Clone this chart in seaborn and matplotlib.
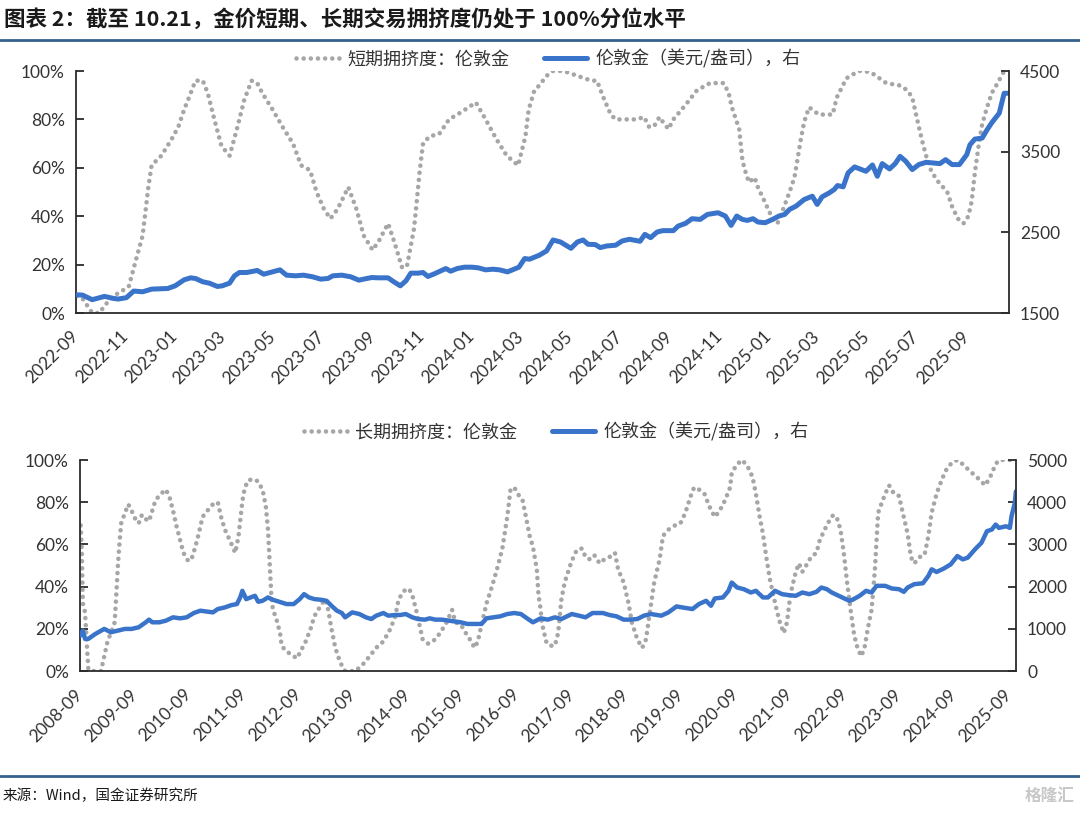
import numpy as np
import pandas as pd
import matplotlib
matplotlib.use("Agg")
import matplotlib.pyplot as plt
import matplotlib.dates as mdates
from matplotlib.lines import Line2D
from matplotlib.ticker import FuncFormatter, FixedLocator
from matplotlib.font_manager import FontProperties
import seaborn as sns

sns.set_theme(style="white")
plt.rcParams["font.family"] = ["Lato", "Noto Sans CJK SC", "DejaVu Sans"]
plt.rcParams["axes.unicode_minus"] = False

BLUE = "#3A74CA"
GRAY = "#A6A6A6"
AXC = "#2B2B2B"
TXT = "#333333"
CJK = ["Noto Sans CJK SC", "DejaVu Sans"]

# ---------------- top panel: short-term crowding (weekly) ----------------
st_dates = [
    "2022-09-02", "2022-09-09", "2022-09-21", "2022-09-30", "2022-10-06", "2022-10-17", "2022-10-27", "2022-11-05", "2022-11-13", "2022-11-22",
    "2022-11-29", "2022-12-03", "2022-12-15", "2022-12-28", "2023-01-05", "2023-01-12", "2023-01-18", "2023-01-26", "2023-02-04", "2023-02-10",
    "2023-02-19", "2023-02-27", "2023-03-09", "2023-03-18", "2023-03-27", "2023-04-05", "2023-04-12", "2023-04-18", "2023-05-01", "2023-05-13",
    "2023-05-26", "2023-06-05", "2023-06-16", "2023-06-24", "2023-07-03", "2023-07-11", "2023-07-20", "2023-08-02", "2023-08-12", "2023-08-21",
    "2023-09-01", "2023-09-09", "2023-09-20", "2023-09-28", "2023-10-07", "2023-10-13", "2023-10-22", "2023-10-29", "2023-11-02", "2023-11-10",
    "2023-11-22", "2023-12-04", "2023-12-19", "2024-01-06", "2024-01-18", "2024-01-31", "2024-02-13", "2024-02-27", "2024-03-07", "2024-03-11",
    "2024-03-18", "2024-03-24", "2024-04-02", "2024-04-10", "2024-04-23", "2024-05-10", "2024-05-27", "2024-06-03", "2024-06-11", "2024-06-20",
    "2024-06-26", "2024-07-13", "2024-07-22", "2024-07-31", "2024-08-06", "2024-08-12", "2024-08-19", "2024-08-23", "2024-08-30", "2024-09-05",
    "2024-09-20", "2024-10-04", "2024-10-20", "2024-11-06", "2024-11-12", "2024-11-16", "2024-11-20", "2024-11-25", "2024-11-29", "2024-12-03",
    "2024-12-07", "2024-12-14", "2024-12-18", "2024-12-25", "2025-01-05", "2025-01-11", "2025-01-16", "2025-01-26", "2025-02-01", "2025-02-09",
    "2025-02-13", "2025-02-19", "2025-03-03", "2025-03-20", "2025-03-25", "2025-04-06", "2025-04-21", "2025-04-29", "2025-05-08", "2025-05-25",
    "2025-06-11", "2025-06-20", "2025-06-26", "2025-06-30", "2025-07-04", "2025-07-09", "2025-07-13", "2025-07-19", "2025-07-26", "2025-08-08",
    "2025-08-14", "2025-08-21", "2025-08-28", "2025-09-03", "2025-09-07", "2025-09-11", "2025-09-16", "2025-09-20", "2025-09-26", "2025-10-02",
    "2025-10-09", "2025-10-17", "2025-10-21",
]
st_pct = [
    7, 6, 0, 0, 3, 7, 9, 11, 21, 32,
    52, 61, 65, 72, 77, 84, 89, 96, 96, 91,
    79, 69, 65, 76, 88, 96, 95, 91, 84, 77,
    70, 61, 59, 50, 43, 39, 43, 52, 43, 32,
    26, 30, 37, 29, 19, 19, 35, 59, 70, 73,
    74, 80, 83, 87, 80, 72, 65, 61, 73, 84,
    92, 94, 98, 100, 100, 98, 96, 96, 89, 82,
    80, 80, 80, 81, 77, 77, 81, 79, 76, 80,
    86, 92, 95, 95, 91, 85, 81, 76, 63, 58,
    54, 56, 52, 47, 39, 37, 41, 50, 56, 72,
    79, 85, 82, 82, 89, 97, 100, 100, 99, 95,
    94, 92, 89, 83, 77, 70, 65, 59, 55, 50,
    44, 39, 37, 40, 46, 58, 70, 78, 85, 91,
    95, 100, 100,
]

gold_w_dates = [
    "2022-09-01", "2022-09-09", "2022-09-21", "2022-10-06", "2022-10-17", "2022-10-23", "2022-11-02", "2022-11-11", "2022-11-22", "2022-12-03",
    "2022-12-23", "2023-01-01", "2023-01-12", "2023-01-20", "2023-01-26", "2023-02-04", "2023-02-12", "2023-02-22", "2023-02-28", "2023-03-09",
    "2023-03-15", "2023-03-21", "2023-03-30", "2023-04-12", "2023-04-20", "2023-05-01", "2023-05-10", "2023-05-18", "2023-05-29", "2023-06-08",
    "2023-06-19", "2023-06-29", "2023-07-08", "2023-07-14", "2023-07-25", "2023-08-05", "2023-08-15", "2023-08-21", "2023-08-31", "2023-09-08",
    "2023-09-20", "2023-09-27", "2023-10-05", "2023-10-12", "2023-10-18", "2023-10-27", "2023-11-02", "2023-11-08", "2023-11-16", "2023-11-23",
    "2023-11-30", "2023-12-06", "2023-12-14", "2023-12-23", "2024-01-01", "2024-01-09", "2024-01-18", "2024-01-27", "2024-02-04", "2024-02-14",
    "2024-02-20", "2024-02-28", "2024-03-06", "2024-03-12", "2024-03-24", "2024-04-02", "2024-04-10", "2024-04-19", "2024-05-02", "2024-05-10",
    "2024-05-17", "2024-05-23", "2024-06-01", "2024-06-07", "2024-06-15", "2024-06-26", "2024-07-04", "2024-07-13", "2024-07-26", "2024-08-01",
    "2024-08-08", "2024-08-16", "2024-08-23", "2024-09-05", "2024-09-11", "2024-09-20", "2024-09-28", "2024-10-08", "2024-10-17", "2024-10-30",
    "2024-11-08", "2024-11-15", "2024-11-22", "2024-11-29", "2024-12-05", "2024-12-12", "2024-12-18", "2024-12-27", "2025-01-05", "2025-01-13",
    "2025-01-20", "2025-01-26", "2025-02-03", "2025-02-13", "2025-02-23", "2025-03-01", "2025-03-07", "2025-03-16", "2025-03-22", "2025-03-26",
    "2025-04-02", "2025-04-08", "2025-04-16", "2025-04-30", "2025-05-08", "2025-05-14", "2025-05-20", "2025-05-29", "2025-06-05", "2025-06-11",
    "2025-06-18", "2025-06-26", "2025-07-04", "2025-07-13", "2025-07-30", "2025-08-06", "2025-08-14", "2025-08-23", "2025-09-01", "2025-09-05",
    "2025-09-11", "2025-09-20", "2025-09-26", "2025-10-02", "2025-10-11", "2025-10-17", "2025-10-21",
]
gold_w = [
    1726, 1722, 1665, 1706, 1681, 1673, 1690, 1772, 1763, 1796,
    1804, 1837, 1911, 1936, 1928, 1887, 1870, 1829, 1837, 1870,
    1961, 2002, 2002, 2027, 1981, 2010, 2035, 1969, 1961, 1969,
    1949, 1920, 1928, 1961, 1969, 1949, 1907, 1920, 1940, 1936,
    1936, 1887, 1837, 1899, 1994, 1994, 2002, 1953, 1986, 2018,
    2051, 2018, 2051, 2068, 2068, 2060, 2035, 2043, 2035, 2010,
    2035, 2068, 2175, 2167, 2216, 2270, 2405, 2381, 2302, 2381,
    2405, 2352, 2348, 2311, 2331, 2340, 2393, 2414, 2389, 2475,
    2434, 2504, 2521, 2521, 2578, 2611, 2669, 2660, 2722, 2743,
    2702, 2586, 2702, 2660, 2648, 2669, 2628, 2619, 2660, 2702,
    2722, 2784, 2825, 2907, 2948, 2846, 2940, 2990, 3031, 3080,
    3064, 3237, 3311, 3257, 3335, 3195, 3352, 3286, 3352, 3442,
    3381, 3278, 3340, 3368, 3352, 3401, 3340, 3340, 3463, 3586,
    3656, 3669, 3771, 3862, 3977, 4224, 4224,
]

# ---------------- bottom panel: long-term crowding (decimal years) ----------------
lt_year = [
    2008.68, 2008.70, 2008.72, 2008.76, 2008.79, 2008.82, 2008.86, 2009.05, 2009.11, 2009.17,
    2009.23, 2009.30, 2009.33, 2009.36, 2009.39, 2009.42, 2009.49, 2009.55, 2009.61, 2009.68,
    2009.74, 2009.80, 2009.87, 2009.93, 2009.99, 2010.05, 2010.15, 2010.24, 2010.31, 2010.37,
    2010.43, 2010.50, 2010.56, 2010.65, 2010.72, 2010.78, 2010.84, 2010.91, 2011.00, 2011.10,
    2011.19, 2011.25, 2011.32, 2011.41, 2011.51, 2011.57, 2011.63, 2011.66, 2011.73, 2011.82,
    2011.92, 2012.01, 2012.07, 2012.11, 2012.14, 2012.17, 2012.20, 2012.26, 2012.33, 2012.36,
    2012.42, 2012.52, 2012.64, 2012.70, 2012.80, 2012.89, 2012.96, 2013.05, 2013.15, 2013.21,
    2013.27, 2013.34, 2013.43, 2013.52, 2013.71, 2013.84, 2013.97, 2014.09, 2014.22, 2014.35,
    2014.44, 2014.50, 2014.60, 2014.69, 2014.75, 2014.82, 2014.88, 2014.94, 2015.04, 2015.13,
    2015.23, 2015.36, 2015.48, 2015.54, 2015.64, 2015.73, 2015.83, 2015.89, 2015.95, 2016.02,
    2016.11, 2016.21, 2016.30, 2016.40, 2016.49, 2016.55, 2016.62, 2016.68, 2016.77, 2016.84,
    2016.90, 2016.96, 2017.03, 2017.06, 2017.10, 2017.12, 2017.20, 2017.26, 2017.36, 2017.42,
    2017.48, 2017.54, 2017.64, 2017.73, 2017.80, 2017.86, 2017.92, 2017.99, 2018.08, 2018.18,
    2018.27, 2018.36, 2018.46, 2018.52, 2018.62, 2018.71, 2018.77, 2018.87, 2018.96, 2019.03,
    2019.09, 2019.18, 2019.28, 2019.34, 2019.44, 2019.56, 2019.66, 2019.75, 2019.85, 2019.91,
    2020.00, 2020.10, 2020.19, 2020.29, 2020.38, 2020.48, 2020.57, 2020.60, 2020.70, 2020.79,
    2020.89, 2020.98, 2021.04, 2021.11, 2021.17, 2021.23, 2021.30, 2021.36, 2021.42, 2021.48,
    2021.55, 2021.61, 2021.67, 2021.77, 2021.83, 2021.89, 2021.96, 2022.05, 2022.15, 2022.21,
    2022.30, 2022.40, 2022.46, 2022.53, 2022.59, 2022.65, 2022.71, 2022.78, 2022.84, 2022.90,
    2022.97, 2023.03, 2023.09, 2023.16, 2023.22, 2023.28, 2023.35, 2023.41, 2023.48, 2023.57,
    2023.66, 2023.75, 2023.82, 2023.88, 2023.94, 2024.04, 2024.13, 2024.20, 2024.26, 2024.35,
    2024.45, 2024.54, 2024.64, 2024.73, 2024.83, 2024.95, 2025.08, 2025.24, 2025.33, 2025.43,
    2025.49, 2025.80,
]
lt_pct = [
    69, 58, 32, 28, 14, 1, 0, 0, 7, 14,
    18, 23, 36, 50, 61, 70, 75, 79, 76, 72,
    70, 74, 72, 71, 76, 81, 84, 86, 82, 76,
    69, 62, 56, 52, 54, 59, 65, 73, 76, 79,
    80, 73, 67, 62, 56, 64, 78, 84, 90, 91,
    90, 86, 78, 67, 51, 36, 29, 25, 18, 12,
    10, 8, 6, 9, 14, 20, 26, 30, 34, 29,
    20, 11, 4, 0, 0, 3, 7, 11, 14, 20,
    26, 34, 38, 39, 36, 29, 22, 15, 13, 14,
    17, 22, 29, 23, 22, 18, 14, 11, 14, 22,
    32, 40, 48, 58, 73, 86, 87, 84, 81, 72,
    64, 59, 48, 36, 29, 23, 14, 12, 12, 18,
    34, 42, 50, 56, 58, 58, 54, 53, 55, 51,
    53, 54, 56, 48, 42, 32, 23, 15, 11, 15,
    26, 42, 53, 64, 67, 69, 70, 75, 83, 87,
    86, 84, 78, 73, 76, 81, 87, 94, 98, 100,
    97, 92, 84, 73, 65, 54, 43, 36, 29, 23,
    18, 23, 36, 47, 51, 47, 50, 54, 56, 62,
    67, 72, 74, 72, 67, 56, 42, 28, 17, 11,
    7, 11, 20, 29, 48, 75, 80, 84, 88, 84,
    83, 73, 65, 54, 51, 54, 55, 64, 75, 84,
    91, 96, 99, 100, 98, 95, 92, 88, 92, 98,
    100, 100,
]

gold_d_year = [
    2008.68, 2008.72, 2008.76, 2008.82, 2008.95, 2009.11, 2009.23, 2009.36, 2009.49, 2009.61,
    2009.74, 2009.87, 2009.93, 2009.99, 2010.12, 2010.24, 2010.37, 2010.50, 2010.62, 2010.75,
    2010.87, 2011.00, 2011.10, 2011.19, 2011.32, 2011.44, 2011.54, 2011.60, 2011.64, 2011.71,
    2011.79, 2011.87, 2011.93, 2012.01, 2012.11, 2012.20, 2012.26, 2012.36, 2012.45, 2012.58,
    2012.69, 2012.77, 2012.86, 2012.96, 2013.08, 2013.18, 2013.27, 2013.37, 2013.46, 2013.52,
    2013.65, 2013.78, 2013.90, 2014.00, 2014.09, 2014.22, 2014.31, 2014.44, 2014.53, 2014.63,
    2014.75, 2014.85, 2014.98, 2015.07, 2015.17, 2015.29, 2015.42, 2015.54, 2015.64, 2015.76,
    2015.89, 2016.02, 2016.11, 2016.24, 2016.36, 2016.49, 2016.62, 2016.74, 2016.87, 2016.96,
    2017.10, 2017.23, 2017.36, 2017.48, 2017.67, 2017.80, 2017.92, 2018.05, 2018.24, 2018.36,
    2018.49, 2018.62, 2018.74, 2018.87, 2018.99, 2019.12, 2019.31, 2019.44, 2019.59, 2019.69,
    2019.88, 2020.00, 2020.13, 2020.22, 2020.29, 2020.44, 2020.54, 2020.60, 2020.70, 2020.82,
    2020.95, 2021.04, 2021.17, 2021.26, 2021.39, 2021.52, 2021.64, 2021.77, 2021.89, 2022.02,
    2022.15, 2022.24, 2022.34, 2022.43, 2022.53, 2022.62, 2022.75, 2022.81, 2022.94, 2023.06,
    2023.16, 2023.25, 2023.41, 2023.53, 2023.66, 2023.75, 2023.82, 2023.94, 2024.10, 2024.20,
    2024.26, 2024.35, 2024.48, 2024.61, 2024.73, 2024.83, 2024.92, 2025.05, 2025.17, 2025.27,
    2025.36, 2025.43, 2025.49, 2025.62, 2025.69, 2025.72, 2025.78, 2025.80,
]
gold_d = [
    840, 958, 761, 761, 879, 997, 918, 958, 997, 997,
    1036, 1154, 1217, 1154, 1154, 1193, 1272, 1248, 1272, 1374,
    1429, 1405, 1389, 1468, 1507, 1562, 1586, 1743, 1900, 1703,
    1743, 1782, 1641, 1664, 1743, 1688, 1664, 1625, 1586, 1586,
    1703, 1821, 1743, 1703, 1688, 1664, 1546, 1429, 1374, 1272,
    1389, 1350, 1272, 1232, 1311, 1374, 1311, 1327, 1327, 1350,
    1272, 1232, 1217, 1248, 1217, 1217, 1193, 1170, 1154, 1115,
    1115, 1115, 1248, 1272, 1295, 1350, 1374, 1350, 1232, 1154,
    1248, 1217, 1272, 1232, 1350, 1311, 1272, 1374, 1374, 1327,
    1295, 1217, 1217, 1232, 1311, 1350, 1311, 1389, 1531, 1507,
    1468, 1586, 1664, 1546, 1719, 1743, 1900, 2096, 1978, 1939,
    1860, 1900, 1743, 1743, 1900, 1821, 1798, 1782, 1860, 1821,
    1876, 1978, 1939, 1860, 1798, 1743, 1664, 1688, 1782, 1900,
    1860, 2018, 2018, 1955, 1939, 1876, 1978, 2057, 2080, 2253,
    2410, 2347, 2426, 2528, 2724, 2645, 2685, 2881, 3038, 3313,
    3352, 3470, 3391, 3430, 3391, 3666, 3980, 4255,
]

title_text = "图表 2：截至 10.21，金价短期、长期交易拥挤度仍处于 100%分位水平"
leg_top = ["短期拥挤度：伦敦金", "伦敦金（美元/盎司），右"]
leg_bot = ["长期拥挤度：伦敦金", "伦敦金（美元/盎司），右"]
source_text = "来源：Wind，国金证券研究所"


def year_to_date(years):
    y = np.asarray(years, dtype=float)
    yi = np.floor(y).astype(int)
    base = pd.to_datetime([f"{v}-01-01" for v in yi])
    return base + pd.to_timedelta((y - yi) * 365.25, unit="D")


DOTS = (0, (0.01, 1.55))
W, H = 1080, 813
fig = plt.figure(figsize=(W / 100, H / 100), dpi=100)
fig.patch.set_facecolor("white")


def style_axes(ax, axr, left_ticks, right_ticks, right_lim):
    for s in ["top", "right"]:
        ax.spines[s].set_visible(False)
    for s in ["left", "bottom"]:
        ax.spines[s].set_color(AXC)
        ax.spines[s].set_linewidth(1.3)
    for s in ["top", "left", "bottom"]:
        axr.spines[s].set_visible(False)
    axr.spines["right"].set_color(AXC)
    axr.spines["right"].set_linewidth(1.3)
    ax.set_ylim(0, 100)
    ax.yaxis.set_major_locator(FixedLocator(left_ticks))
    ax.yaxis.set_major_formatter(FuncFormatter(lambda v, p: f"{v:.0f}%"))
    axr.set_ylim(*right_lim)
    axr.yaxis.set_major_locator(FixedLocator(right_ticks))
    axr.yaxis.set_major_formatter(FuncFormatter(lambda v, p: f"{v:.0f}"))
    ax.tick_params(axis="both", direction="in", length=5.5, width=1.3, color=AXC,
                   labelsize=12.5, labelcolor=TXT, pad=8)
    ax.tick_params(axis="x", pad=15)
    axr.tick_params(axis="y", direction="in", length=5.5, width=1.3, color=AXC,
                    labelsize=12.5, labelcolor=TXT, pad=8)
    ax.set_xlabel("")
    ax.set_ylabel("")
    axr.set_ylabel("")
    ax.grid(False)
    axr.grid(False)
    for lbl in ax.get_xticklabels():
        lbl.set_rotation(45)
        lbl.set_ha("right")
        lbl.set_va("center")
        lbl.set_rotation_mode("anchor")


# ---------------- top ----------------
ax1 = fig.add_axes([76 / W, 1 - 313 / H, (1009 - 76) / W, (313 - 71) / H])
ax1r = ax1.twinx()
sns.lineplot(x=pd.to_datetime(st_dates), y=st_pct, ax=ax1, color=GRAY, linewidth=3.3,
             linestyle=DOTS, dash_capstyle="round", estimator=None, errorbar=None)
sns.lineplot(x=pd.to_datetime(gold_w_dates), y=gold_w, ax=ax1r, color=BLUE, linewidth=3.6,
             estimator=None, errorbar=None, solid_joinstyle="round")
ax1.set_xlim(pd.Timestamp("2022-09-01"), pd.Timestamp("2025-10-23"))
ax1.xaxis.set_major_locator(mdates.MonthLocator(bymonth=[1, 3, 5, 7, 9, 11]))
ax1.xaxis.set_major_formatter(mdates.DateFormatter("%Y-%m"))
style_axes(ax1, ax1r, [0, 20, 40, 60, 80, 100], [1500, 2500, 3500, 4500], (1500, 4500))

# ---------------- bottom ----------------
ax2 = fig.add_axes([80 / W, 1 - 671 / H, (1016 - 80) / W, (671 - 460) / H])
ax2r = ax2.twinx()
sns.lineplot(x=year_to_date(lt_year), y=lt_pct, ax=ax2, color=GRAY, linewidth=3.3,
             linestyle=DOTS, dash_capstyle="round", estimator=None, errorbar=None)
sns.lineplot(x=year_to_date(gold_d_year), y=gold_d, ax=ax2r, color=BLUE, linewidth=3.2,
             estimator=None, errorbar=None, solid_joinstyle="round")
ax2.set_xlim(pd.Timestamp("2008-09-01"), pd.Timestamp("2025-10-21"))
ax2.xaxis.set_major_locator(mdates.YearLocator(1, month=9, day=1))
ax2.xaxis.set_major_formatter(mdates.DateFormatter("%Y-%m"))
style_axes(ax2, ax2r, [0, 20, 40, 60, 80, 100], [0, 1000, 2000, 3000, 4000, 5000], (0, 5000))

# ---------------- legends ----------------
def legend_handles(lw_blue):
    return [Line2D([], [], color=GRAY, linewidth=3.3, linestyle=DOTS, dash_capstyle="round"),
            Line2D([], [], color=BLUE, linewidth=lw_blue)]


legprop = FontProperties(family=CJK, size=13)
fig.legend(handles=legend_handles(3.6), labels=leg_top, ncol=2, loc="center",
           bbox_to_anchor=(548 / W, 1 - 59 / H), frameon=False, prop=legprop,
           handlelength=2.4, handletextpad=0.45, columnspacing=1.9, labelcolor=TXT)
fig.legend(handles=legend_handles(3.6), labels=leg_bot, ncol=2, loc="center",
           bbox_to_anchor=(556 / W, 1 - 432 / H), frameon=False, prop=legprop,
           handlelength=2.4, handletextpad=0.45, columnspacing=1.9, labelcolor=TXT)

# ---------------- title, rules, footer ----------------
fig.text(4 / W, 1 - 19 / H, title_text, fontsize=15.5, fontweight="bold", family=CJK,
         color="#1a1a1a", va="center", ha="left")
fig.add_artist(Line2D([0, 1], [1 - 40 / H, 1 - 40 / H], transform=fig.transFigure,
                      color="#34628E", linewidth=2.0))
fig.add_artist(Line2D([0, 1], [1 - 776 / H, 1 - 776 / H], transform=fig.transFigure,
                      color="#34628E", linewidth=2.0))
fig.text(3 / W, 1 - 796 / H, source_text, fontsize=10.5, family=CJK, color="#1a1a1a",
         va="center", ha="left")
fig.text(1075 / W, 1 - 796 / H, "格隆汇", fontsize=12, family=CJK, color="#C8C8C8",
         va="center", ha="right", fontweight="bold")

fig.savefig("out.png", dpi=100, facecolor="white")
